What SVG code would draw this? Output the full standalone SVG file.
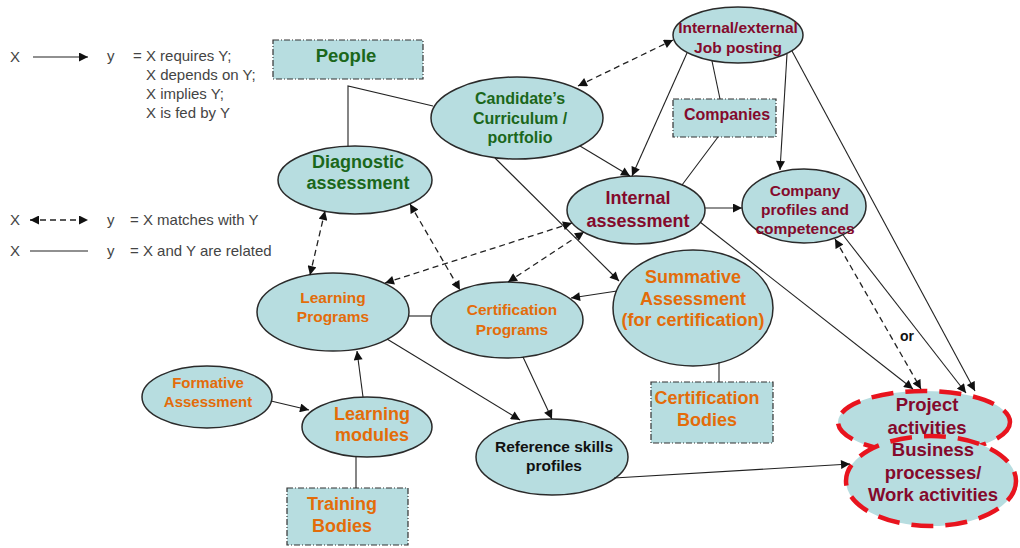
<svg xmlns="http://www.w3.org/2000/svg" width="1020" height="548" viewBox="0 0 1020 548">
<defs>
<marker id="ah" viewBox="0 0 10 10" refX="10" refY="5" markerWidth="10" markerHeight="9" markerUnits="userSpaceOnUse" orient="auto-start-reverse">
<path d="M0,0 L10,5 L0,10 z" fill="#111"/>
</marker>
<style>
.el{fill:#b7dde0;stroke:#2a2a2a;stroke-width:1.5}
.bx{fill:#b7dde0;stroke:#333;stroke-width:1.2;stroke-dasharray:6 2 1 2}
.red{fill:#b7dde0;stroke:#e8141e;stroke-width:4.5;stroke-dasharray:22 12}
.t{font-family:"Liberation Sans",Arial,sans-serif;font-weight:bold;text-anchor:middle}
.g{fill:#1b671b}
.m{fill:#840a2c}
.o{fill:#e36c0a}
.k{fill:#111}
.lg{font-family:"Liberation Sans",Arial,sans-serif;font-size:15px;fill:#444}
.s{fill:none;stroke:#222;stroke-width:1.1}
.d{fill:none;stroke:#222;stroke-width:1.3;stroke-dasharray:6 4}
</style>
</defs>
<rect width="1020" height="548" fill="#fff"/>

<g id="legend">
<text class="lg" x="10" y="62">X</text>
<line class="s" x1="33" y1="57" x2="88" y2="57" marker-end="url(#ah)"/>
<text class="lg" x="107" y="61">y</text>
<text class="lg" x="133" y="61">= X requires Y;</text>
<text class="lg" x="146" y="80">X depends on Y;</text>
<text class="lg" x="146" y="99">X implies Y;</text>
<text class="lg" x="146" y="118">X is fed by Y</text>
<text class="lg" x="10" y="225">X</text>
<line class="d" x1="30" y1="220" x2="88" y2="220" marker-start="url(#ah)" marker-end="url(#ah)"/>
<text class="lg" x="107" y="225">y</text>
<text class="lg" x="130" y="225">= X matches with Y</text>
<text class="lg" x="10" y="256">X</text>
<line class="s" x1="30" y1="251" x2="88" y2="251"/>
<text class="lg" x="107" y="256">y</text>
<text class="lg" x="130" y="256">= X and Y are related</text>
</g>

<g id="people"><rect class="bx" x="273" y="40" width="150" height="39"/><text class="t g" x="346" y="62" font-size="18.5">People</text></g>

<g id="curriculum"><ellipse class="el" cx="517" cy="118" rx="86" ry="41"/>
<text class="t g" font-size="16"><tspan x="520" y="104">Candidate’s</tspan><tspan x="520" y="124">Curriculum /</tspan><tspan x="520" y="143">portfolio</tspan></text></g>

<g id="jobposting"><ellipse class="el" cx="738" cy="35" rx="65" ry="28"/>
<text class="t m" font-size="15.5"><tspan x="738" y="33">Internal/external</tspan><tspan x="738" y="53">Job posting</tspan></text></g>

<g id="companies"><rect class="bx" x="673" y="99" width="103" height="38"/><text class="t m" x="727" y="120" font-size="16">Companies</text></g>

<g id="diagnostic"><ellipse class="el" cx="355" cy="180" rx="77" ry="34"/>
<text class="t g" font-size="18"><tspan x="358" y="168">Diagnostic</tspan><tspan x="358" y="189">assessment</tspan></text></g>

<g id="internal"><ellipse class="el" cx="636" cy="210" rx="69" ry="34"/>
<text class="t m" font-size="18"><tspan x="638" y="204">Internal</tspan><tspan x="638" y="227">assessment</tspan></text></g>

<g id="companyprofiles"><ellipse class="el" cx="804" cy="206" rx="62" ry="37"/>
<text class="t m" font-size="15.5"><tspan x="805" y="196">Company</tspan><tspan x="805" y="215">profiles and</tspan><tspan x="805" y="234">competences</tspan></text></g>

<g id="learningprograms"><ellipse class="el" cx="333" cy="312" rx="76" ry="39"/>
<text class="t o" font-size="15.5"><tspan x="333" y="303">Learning</tspan><tspan x="333" y="322">Programs</tspan></text></g>

<g id="certprograms"><ellipse class="el" cx="507" cy="320" rx="76" ry="38"/>
<text class="t o" font-size="15.5"><tspan x="512" y="315">Certification</tspan><tspan x="512" y="335">Programs</tspan></text></g>

<g id="summative"><ellipse class="el" cx="693" cy="308" rx="80" ry="58"/>
<text class="t o" font-size="18"><tspan x="693" y="283">Summative</tspan><tspan x="693" y="305">Assessment</tspan><tspan x="693" y="326">(for certification)</tspan></text></g>

<g id="certbodies"><rect class="bx" x="651" y="382" width="122" height="61"/>
<text class="t o" font-size="18"><tspan x="707" y="404">Certification</tspan><tspan x="707" y="426">Bodies</tspan></text></g>

<g id="formative"><ellipse class="el" cx="207" cy="397" rx="65" ry="31"/>
<text class="t o" font-size="15"><tspan x="208" y="388">Formative</tspan><tspan x="208" y="407">Assessment</tspan></text></g>

<g id="modules"><ellipse class="el" cx="367" cy="427" rx="65" ry="30"/>
<text class="t o" font-size="18"><tspan x="372" y="420">Learning</tspan><tspan x="372" y="441">modules</tspan></text></g>

<g id="trainingbodies"><rect class="bx" x="287" y="488" width="121" height="57"/>
<text class="t o" font-size="18"><tspan x="342" y="510">Training</tspan><tspan x="342" y="532">Bodies</tspan></text></g>

<g id="refskills"><ellipse class="el" cx="552" cy="457" rx="76" ry="38"/>
<text class="t k" font-size="15.5"><tspan x="554" y="452">Reference skills</tspan><tspan x="554" y="471">profiles</tspan></text></g>

<g id="project"><ellipse class="red" cx="924" cy="422" rx="86" ry="31"/></g>
<g id="business"><ellipse class="red" cx="931" cy="481" rx="85" ry="45"/>
<text class="t m" font-size="18.5"><tspan x="927" y="411">Project</tspan><tspan x="927" y="434">activities</tspan></text>
<text class="t m" font-size="18.5"><tspan x="933" y="456">Business</tspan><tspan x="933" y="479">processes/</tspan><tspan x="933" y="501">Work activities</tspan></text></g>

<g id="connectors">
<polyline class="s" points="348,146 348,86 433,106"/>
<line class="s" x1="712" y1="61" x2="720" y2="99"/>
<line class="s" x1="718" y1="137" x2="682" y2="185"/>
<line class="s" x1="580" y1="146" x2="630" y2="176" marker-end="url(#ah)"/>
<line class="s" x1="687" y1="53" x2="632" y2="176" marker-end="url(#ah)"/>
<line class="s" x1="787" y1="54" x2="780" y2="170" marker-end="url(#ah)"/>
<line class="s" x1="792" y1="51" x2="975" y2="391" marker-end="url(#ah)"/>
<line class="s" x1="843" y1="235" x2="966" y2="393" marker-end="url(#ah)"/>
<line class="s" x1="700" y1="222" x2="913" y2="389" marker-end="url(#ah)"/>
<line class="d" x1="835" y1="239" x2="921" y2="389" marker-start="url(#ah)" marker-end="url(#ah)"/>
<line class="s" x1="705" y1="208" x2="742" y2="208" marker-end="url(#ah)"/>
<line class="s" x1="495" y1="158" x2="619" y2="281" marker-end="url(#ah)"/>
<line class="s" x1="617" y1="291" x2="571" y2="298" marker-end="url(#ah)"/>
<line class="s" x1="409" y1="316" x2="431" y2="316"/>
<line class="s" x1="387" y1="339" x2="520" y2="420" marker-end="url(#ah)"/>
<line class="s" x1="523" y1="357" x2="552" y2="419" marker-end="url(#ah)"/>
<line class="s" x1="614" y1="478" x2="850" y2="464" marker-end="url(#ah)"/>
<line class="s" x1="271" y1="401" x2="309" y2="410" marker-end="url(#ah)"/>
<line class="s" x1="363" y1="397" x2="357" y2="351" marker-end="url(#ah)"/>
<line class="s" x1="356" y1="457" x2="356" y2="488"/>
<line class="s" x1="719" y1="362" x2="719" y2="382"/>
<line class="d" x1="578" y1="86" x2="673" y2="40" marker-start="url(#ah)" marker-end="url(#ah)"/>
<line class="d" x1="325" y1="211" x2="310" y2="275" marker-start="url(#ah)" marker-end="url(#ah)"/>
<line class="d" x1="410" y1="204" x2="460" y2="290" marker-start="url(#ah)" marker-end="url(#ah)"/>
<line class="d" x1="385" y1="283" x2="572" y2="223" marker-start="url(#ah)" marker-end="url(#ah)"/>
<line class="d" x1="508" y1="282" x2="584" y2="232" marker-start="url(#ah)" marker-end="url(#ah)"/>
<text class="t k" x="907" y="341" font-size="14">or</text>
</g>
</svg>
